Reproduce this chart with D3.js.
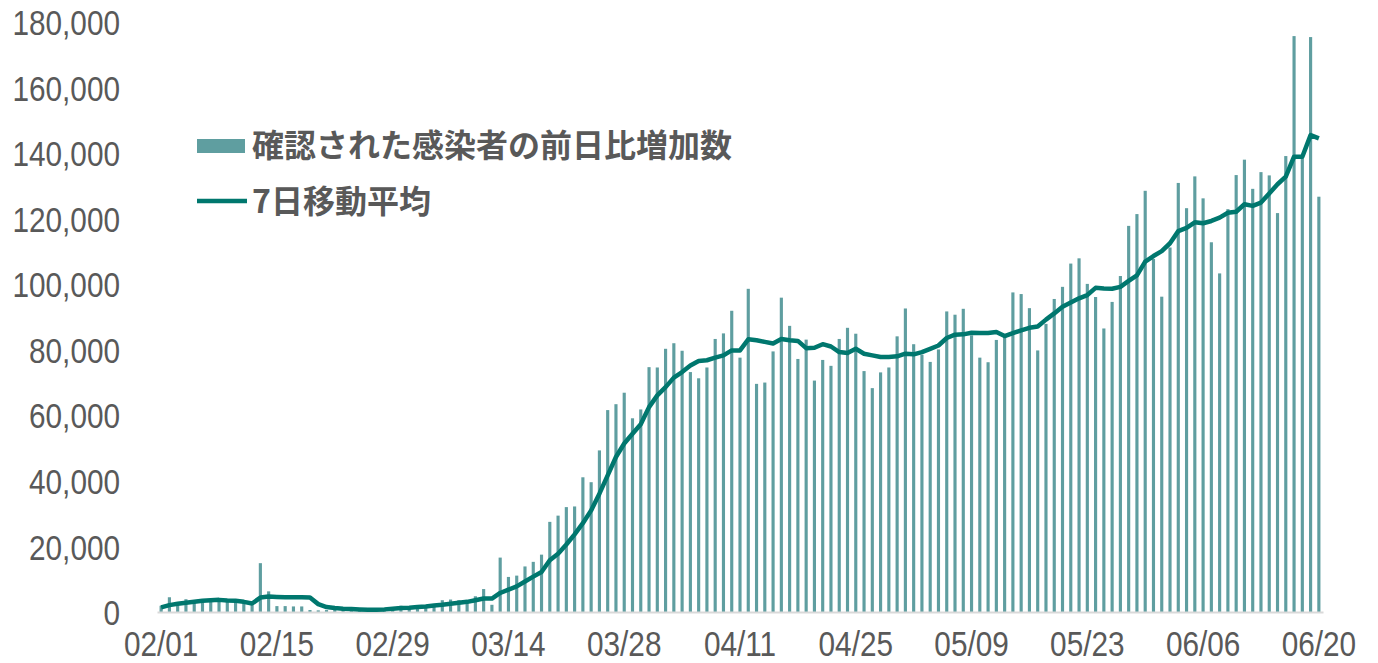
<!DOCTYPE html>
<html>
<head>
<meta charset="utf-8">
<script src="https://cdn.jsdelivr.net/npm/d3@7"></script>
<style>
body { margin: 0; background: #fff; }
.tick text { fill: #595959; font-family: "Liberation Sans", Arial, sans-serif; font-size: 35px; }
</style>
</head>
<body>
<script>
// daily increase of confirmed cases (thousands), 2020-02-01 .. 2020-06-20
var dailyNew = [
	1.9, 4.5, 2.6, 3.9, 3.2, 3.8, 3.7, 3.2, 3.4, 2.8, 3.0, 2.1, 14.9, 6.3,
	1.8, 1.8, 1.7, 1.7, 0.6, 0.5, 0.6, 0.9, 0.7, 0.8, 0.6, 0.9, 1.0, 1.1,
	1.5, 1.9, 1.7, 2.1, 1.9, 2.3, 3.6, 3.8, 3.6, 3.6, 4.8, 7.0, 2.2, 16.6,
	10.7, 11.1, 13.9, 15.3, 17.5, 27.5, 29.4, 32.0, 32.2, 41.1, 39.6, 49.3, 61.6, 63.4,
	66.9, 59.1, 61.8, 74.7, 74.6, 80.3, 82.0, 79.7, 73.2, 71.3, 74.6, 83.3, 85.0, 91.9,
	77.6, 98.6, 69.6, 70.0, 79.5, 95.9, 87.3, 77.2, 83.1, 70.6, 76.9, 75.1, 83.3, 86.7,
	84.9, 73.5, 68.3, 73.1, 74.6, 84.1, 92.6, 81.7, 78.5, 76.3, 80.1, 91.7, 90.7, 92.5,
	84.4, 77.6, 76.2, 83.0, 83.9, 97.5, 97.0, 92.7, 79.8, 87.9, 95.5, 99.2, 106.3, 107.9,
	100.1, 96.1, 86.5, 94.6, 102.5, 117.8, 121.4, 128.5, 107.7, 96.2, 111.2, 130.9, 123.2, 132.9,
	126.2, 112.8, 103.3, 122.9, 133.3, 138.0, 129.1, 134.2, 133.2, 121.7, 139.1, 175.7, 138.9, 175.4,
	126.7
]

// 7 day moving average (thousands)
var movingAvg = [
	1.4, 2.1, 2.5, 2.8, 3.1, 3.4, 3.6, 3.7, 3.5, 3.4, 3.1, 2.6, 4.4, 4.7,
	4.6, 4.5, 4.5, 4.5, 4.4, 2.4, 1.5, 1.2, 1.0, 0.9, 0.8, 0.7, 0.7, 0.8,
	1.0, 1.2, 1.3, 1.5, 1.7, 2.0, 2.2, 2.5, 2.8, 3.1, 3.6, 4.1, 4.1, 5.8,
	6.8, 7.8, 9.3, 10.8, 12.2, 15.8, 17.8, 20.6, 23.7, 27.1, 31.0, 36.1, 41.7, 47.3,
	51.4, 54.4, 57.3, 62.5, 66.1, 68.6, 71.5, 73.2, 75.2, 76.6, 76.8, 77.6, 78.3, 79.8,
	79.8, 83.2, 82.9, 82.4, 81.9, 83.3, 82.9, 82.7, 80.5, 80.6, 81.7, 81.0, 79.3, 79.0,
	80.3, 78.8, 78.3, 77.8, 77.8, 78.0, 78.8, 78.6, 79.3, 80.3, 81.3, 83.6, 84.6, 84.7,
	85.2, 85.1, 85.1, 85.4, 84.2, 85.1, 85.9, 86.7, 87.1, 89.2, 91.1, 93.1, 94.4, 95.7,
	96.7, 98.9, 98.7, 98.6, 99.2, 101.0, 102.7, 106.9, 108.6, 110.1, 112.5, 116.2, 117.2, 118.9,
	118.6, 119.3, 120.3, 121.8, 122.1, 124.4, 123.9, 124.9, 127.7, 130.5, 132.8, 138.9, 138.9, 145.5,
	144.5
]

var xTickLabels = ["02/01", "02/15", "02/29", "03/14", "03/28", "04/11", "04/25", "05/09", "05/23", "06/06", "06/20"]
var yTickValues = [0, 20000, 40000, 60000, 80000, 100000, 120000, 140000, 160000, 180000]
var legendLabels = ["確認された感染者の前日比増加数", "7日移動平均"]

var fmtDay = d3.timeFormat("%m/%d")
var categories = d3.timeDay.range(new Date(2020, 1, 1), new Date(2020, 5, 21)).map(fmtDay)

var barColor = "#5f9ea0"
var lineColor = "#00776e"

var svg = d3.select("body")
	.append("svg")
	.attr("width", 1378)
	.attr("height", 663);

var x = d3.scaleBand()
	.domain(categories)
	.range([157, 1323])
	.paddingInner(0.62)
	.paddingOuter(0.31);

var y = d3.scaleLinear()
	.domain([0, 180000])
	.range([612, 22]);

// tick font in the original is narrow, squeeze it a bit
svg.append("g")
	.attr("transform", "translate(120,0)")
	.call(d3.axisLeft(y).tickValues(yTickValues).tickSize(0).tickPadding(0).tickFormat(d3.format(",")))
	.call(function(g) { g.select(".domain").remove() })
	.selectAll("text")
		.attr("dy", "0.36em")
		.attr("transform", "scale(0.85,1)");

svg.selectAll(".bar")
	.data(dailyNew)
	.enter()
	.append("rect")
	.attr("class", "bar")
	.attr("x", function(d, i) { return x(categories[i]) })
	.attr("width", x.bandwidth())
	.attr("y", function(d) { return y(d * 1000) })
	.attr("height", function(d) { return y(0) - y(d * 1000) })
	.attr("fill", barColor);

var xAxis = svg.append("g")
	.attr("transform", "translate(0,612)")
	.call(d3.axisBottom(x).tickValues(xTickLabels).tickSize(0).tickSizeOuter(0).tickPadding(19));

xAxis.selectAll("text")
	.attr("transform", "scale(0.85,1)");

xAxis.select(".domain")
	.attr("stroke", "#d9d9d9")
	.attr("stroke-width", 2);

var line = d3.line()
	.x(function(d, i) { return x(categories[i]) + x.bandwidth() / 2 })
	.y(function(d) { return y(d * 1000) });

svg.append("path")
	.datum(movingAvg)
	.attr("d", line)
	.attr("fill", "none")
	.attr("stroke", lineColor)
	.attr("stroke-width", 4.5)
	.attr("stroke-linejoin", "round");

var legend = svg.append("g")
	.attr("font-family", "'Noto Sans CJK JP', sans-serif")
	.attr("font-size", 32)
	.attr("font-weight", "bold")
	.attr("fill", "#595959");

legend.append("rect")
	.attr("x", 197)
	.attr("y", 139)
	.attr("width", 48)
	.attr("height", 14)
	.attr("fill", barColor);

legend.append("line")
	.attr("x1", 197)
	.attr("x2", 247)
	.attr("y1", 201)
	.attr("y2", 201)
	.attr("stroke", lineColor)
	.attr("stroke-width", 4.5);

legend.selectAll("text")
	.data(legendLabels)
	.enter()
	.append("text")
	.attr("x", 252)
	.attr("y", function(d, i) { return 146 + i * 56 })
	.attr("dy", "0.35em")
	.text(function(d) { return d });
</script>
</body>
</html>
